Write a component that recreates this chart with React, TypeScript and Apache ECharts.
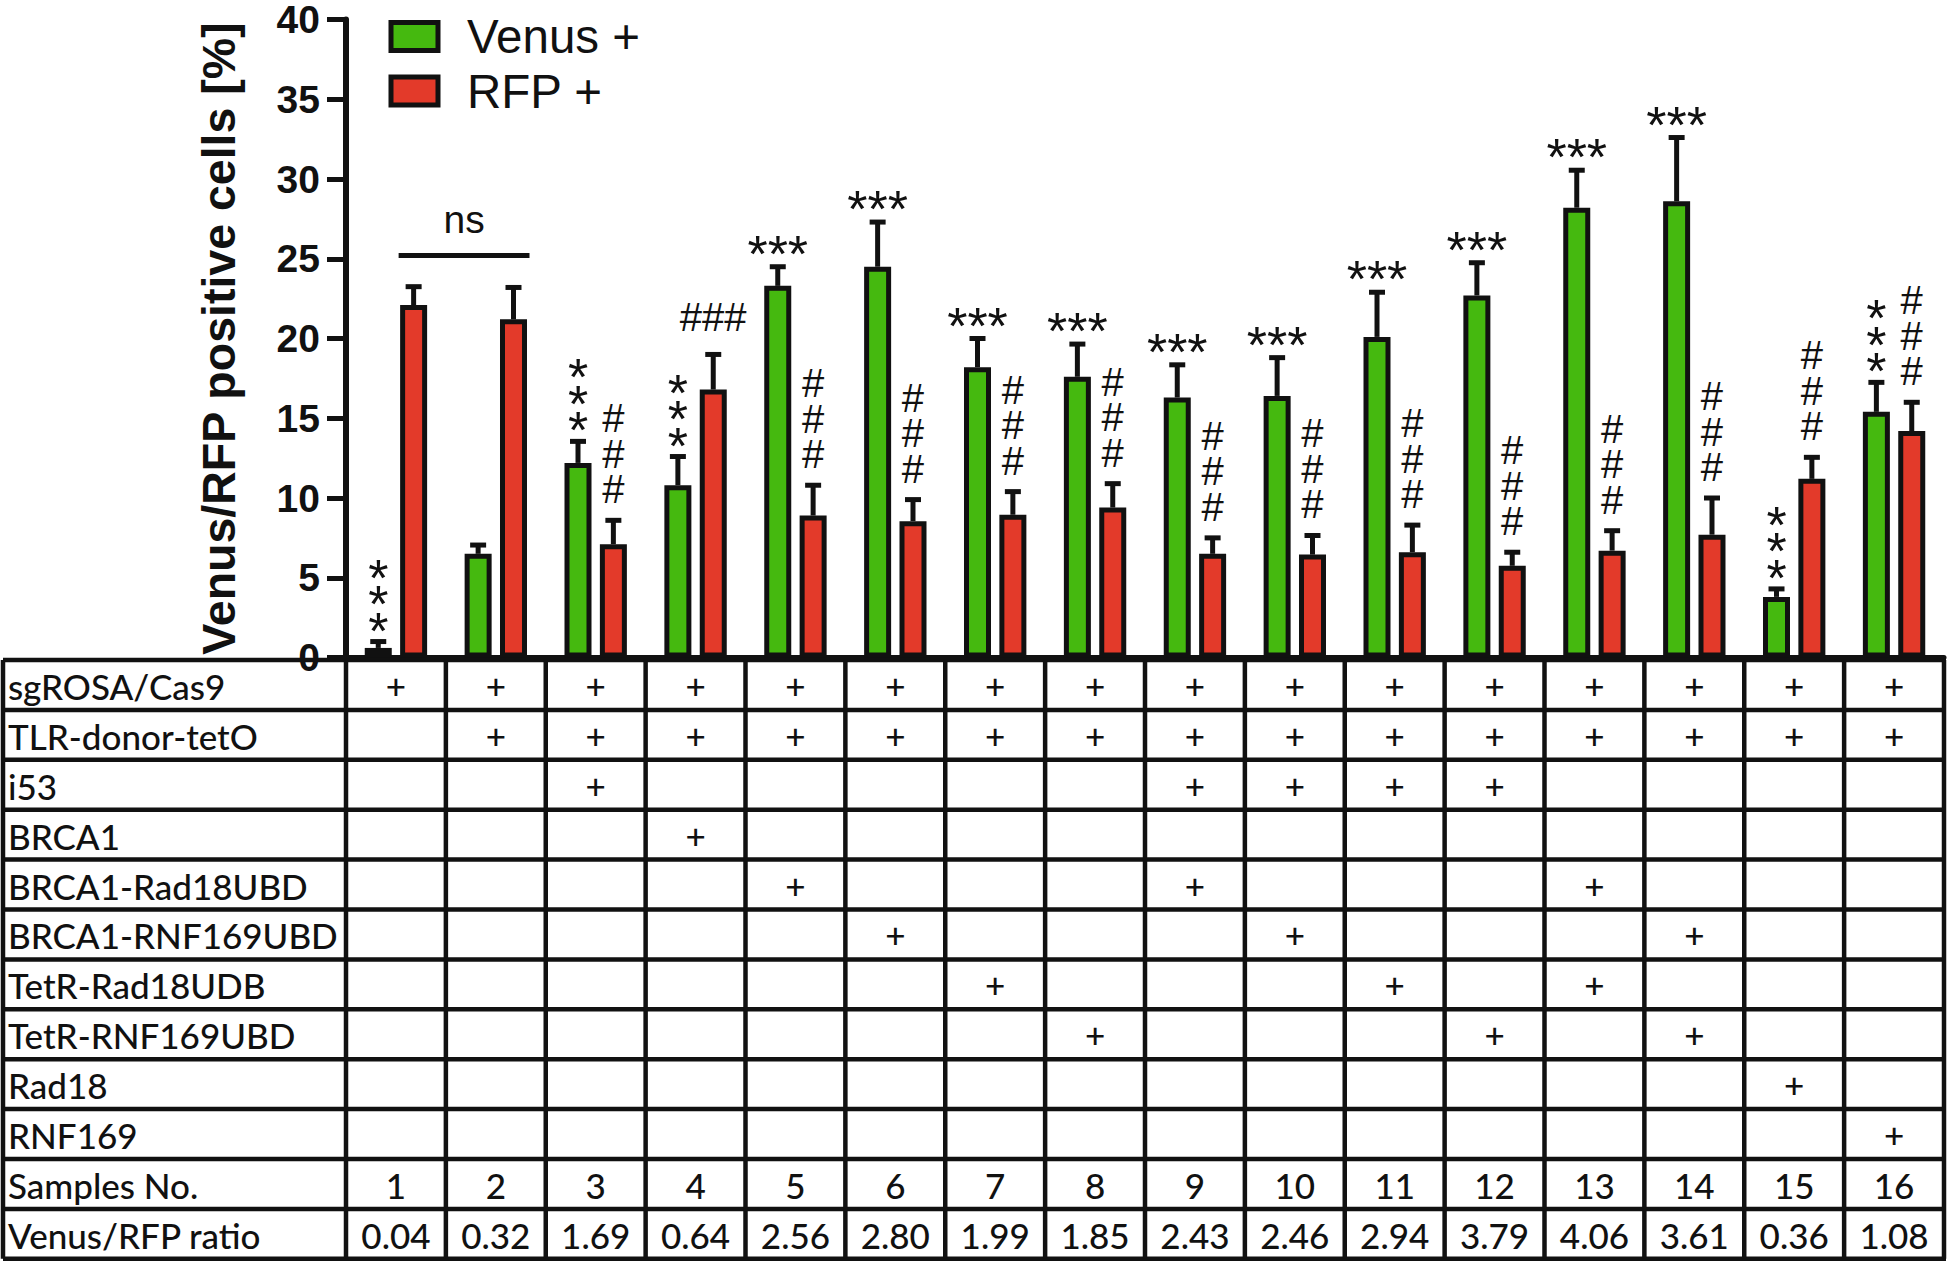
import React, { useEffect, useRef } from "react";
import * as echarts from "echarts";

// ---------- data ----------
const samples = ["1", "2", "3", "4", "5", "6", "7", "8", "9", "10", "11", "12", "13", "14", "15", "16"];
const venus = [0.6, 6.5, 12.2, 10.8, 23.3, 24.5, 18.2, 17.6, 16.3, 16.4, 20.1, 22.7, 28.2, 28.6, 3.8, 15.4];
const venusErr = [0.4, 0.55, 1.35, 1.8, 1.2, 2.8, 1.8, 2.05, 2.05, 2.4, 2.8, 2.05, 2.35, 4.0, 0.5, 1.85];
const rfp = [22.1, 21.2, 7.1, 16.8, 8.9, 8.55, 8.95, 9.4, 6.5, 6.45, 6.6, 5.75, 6.7, 7.7, 11.2, 14.2];
const rfpErr = [1.15, 2.0, 1.5, 2.2, 1.9, 1.35, 1.45, 1.5, 1.0, 1.2, 1.7, 0.85, 1.25, 2.3, 1.35, 1.8];
const V3 = "*\n*\n*";
const H3 = "#\n#\n#";
const venusMarks = [V3, "", V3, V3, "***", "***", "***", "***", "***", "***", "***", "***", "***", "***", V3, V3];
const rfpMarks = ["", "", H3, "###", H3, H3, H3, H3, H3, H3, H3, H3, H3, H3, H3, H3];
const nsPair = [0, 1, 25.2]; // from sample index, to sample index, height
const yTicks = { min: 0, max: 40, interval: 5 };

const rowLabels = [
  "sgROSA/Cas9",
  "TLR-donor-tetO",
  "i53",
  "BRCA1",
  "BRCA1-Rad18UBD",
  "BRCA1-RNF169UBD",
  "TetR-Rad18UDB",
  "TetR-RNF169UBD",
  "Rad18",
  "RNF169",
];
const rowMembers: number[][] = [
  [1, 2, 3, 4, 5, 6, 7, 8, 9, 10, 11, 12, 13, 14, 15, 16],
  [2, 3, 4, 5, 6, 7, 8, 9, 10, 11, 12, 13, 14, 15, 16],
  [3, 9, 10, 11, 12],
  [4],
  [5, 9, 13],
  [6, 10, 14],
  [7, 11, 13],
  [8, 12, 14],
  [15],
  [16],
];
const ratios = ["0.04", "0.32", "1.69", "0.64", "2.56", "2.80", "1.99", "1.85", "2.43", "2.46", "2.94", "3.79", "4.06", "3.61", "0.36", "1.08"];

// ---------- style ----------
const GREEN = "#45b90f";
const RED = "#e33a2a";
const INK = "#111111";
const FONT = "'Liberation Sans', Arial, Helvetica, sans-serif";
const TFONT = "Lato, 'Noto Sans', sans-serif";
const BAR_W = 27;
const BAR_GAP = 0.31;
const OFF = (BAR_W * (1 + BAR_GAP)) / 2;

export default function App() {
  const ref = useRef<HTMLDivElement>(null);

  useEffect(() => {
    const el = ref.current!;
    const chart = echarts.init(el, null, { renderer: "svg" });

    const errData: number[][] = [];
    venus.forEach((v, i) => errData.push([i, v, venusErr[i], 0]));
    rfp.forEach((v, i) => errData.push([i, v, rfpErr[i], 1]));

    const renderErr = (params: any, api: any) => {
      const i = api.value(0);
      const v = api.value(1);
      const e = api.value(2);
      const s = api.value(3);
      const base = api.coord([i, v]);
      const cx = base[0] + (s === 0 ? -OFF : OFF);
      const y0 = base[1];
      const yc = api.coord([i, v + e])[1];
      const children: any[] = [
        { type: "line", shape: { x1: cx, y1: y0, x2: cx, y2: yc }, style: { stroke: INK, lineWidth: 5 } },
        { type: "line", shape: { x1: cx - 8, y1: yc, x2: cx + 8, y2: yc }, style: { stroke: INK, lineWidth: 5 } },
      ];
      const mark = (s === 0 ? venusMarks : rfpMarks)[i];
      if (mark) {
        const isStar = mark.indexOf("*") >= 0;
        const fs = isStar ? 52 : 40;
        const n = mark.split("\n").length;
        const vertical = n > 1;
        let baseOff: number;
        let step: number;
        if (isStar) {
          baseOff = vertical ? 11 : 13;
          step = 26.5;
        } else {
          baseOff = vertical ? 31 : 37;
          step = 35.5;
        }
        const bottomCenter = yc - baseOff;
        children.push({
          type: "text",
          x: cx,
          y: bottomCenter - ((n - 1) * step) / 2,
          style: {
            text: mark,
            fill: INK,
            fontSize: fs,
            fontFamily: FONT,
            lineHeight: vertical ? step : fs,
            align: "center",
            verticalAlign: "middle",
          },
        });
      }
      return { type: "group", children };
    };

    const renderNs = (params: any, api: any) => {
      const a = api.value(0);
      const b = api.value(1);
      const h = api.value(2);
      const pa = api.coord([a, h]);
      const pb = api.coord([b, h]);
      const x1 = pa[0] + OFF - 15;
      const x2 = pb[0] + OFF + 16;
      return {
        type: "group",
        children: [
          { type: "line", shape: { x1, y1: pa[1], x2, y2: pa[1] }, style: { stroke: INK, lineWidth: 5 } },
          {
            type: "text",
            x: (x1 + x2) / 2,
            y: pa[1] - 36,
            style: { text: "ns", fill: INK, fontSize: 39, fontFamily: FONT, align: "center", verticalAlign: "middle" },
          },
        ],
      };
    };

    chart.setOption({
      animation: false,
      backgroundColor: "#ffffff",
      grid: { left: 346, right: 4, top: 13.5, bottom: 607.5 },
      legend: {
        left: 388.5,
        top: 12.5,
        padding: 0,
        orient: "vertical",
        icon: "rect",
        itemWidth: 47,
        itemHeight: 28,
        itemGap: 6.5,
        selectedMode: false,
        itemStyle: { borderColor: INK, borderWidth: 5 },
        textStyle: { fontSize: 47.5, fontFamily: FONT, color: INK, lineHeight: 46, padding: [0, 0, 0, 24] },
        data: ["Venus +", "RFP +"],
      },
      xAxis: {
        type: "category",
        data: samples,
        axisLine: { lineStyle: { color: INK, width: 5 } },
        axisTick: { show: false },
        axisLabel: { show: false },
        splitLine: { show: false },
      },
      yAxis: {
        type: "value",
        min: yTicks.min,
        max: yTicks.max,
        interval: yTicks.interval,
        name: "Venus/RFP positive cells [%]",
        nameLocation: "middle",
        nameRotate: 90,
        nameGap: 104,
        nameTextStyle: { fontSize: 46.5, fontWeight: "bold", fontFamily: FONT, color: INK },
        axisLine: { show: true, lineStyle: { color: INK, width: 6 } },
        axisTick: { show: true, length: 19, lineStyle: { color: INK, width: 5 } },
        axisLabel: { fontSize: 39, fontWeight: "bold", fontFamily: FONT, color: INK, margin: 26 },
        splitLine: { show: false },
      },
      series: [
        {
          name: "Venus +",
          type: "bar",
          data: venus,
          barWidth: BAR_W,
          barGap: BAR_GAP * 100 + "%",
          itemStyle: { color: GREEN, borderColor: INK, borderWidth: 5 },
          z: 2,
        },
        {
          name: "RFP +",
          type: "bar",
          data: rfp,
          barWidth: BAR_W,
          barGap: BAR_GAP * 100 + "%",
          itemStyle: { color: RED, borderColor: INK, borderWidth: 5 },
          z: 2,
        },
        {
          type: "custom",
          name: "err",
          data: errData,
          encode: { x: 0, y: 1 },
          renderItem: renderErr,
          z: 3,
          silent: true,
        },
        {
          type: "custom",
          name: "ns",
          data: [nsPair],
          encode: { x: 0, y: 2 },
          renderItem: renderNs,
          z: 3,
          silent: true,
        },
      ],
    });

    // ---------- table aligned to category axis ----------
    const p0 = chart.convertToPixel({ gridIndex: 0 }, [0, 0]) as number[];
    const p1 = chart.convertToPixel({ gridIndex: 0 }, [1, 0]) as number[];
    const band = p1[0] - p0[0];
    const tableTop = p0[1] + 2.5;
    const rowH = 49.9;
    const leftX = 3;
    const colLeft = (i: number) => p0[0] + (i - 0.5) * band;
    const rightX = colLeft(samples.length);
    const nRows = rowLabels.length + 2;
    const g: any[] = [];
    const lineStyle = { stroke: INK, lineWidth: 4.5 };
    for (let r = 0; r <= nRows; r++) {
      const y = tableTop + r * rowH;
      g.push({ type: "line", silent: true, shape: { x1: leftX, y1: y, x2: rightX + 2, y2: y }, style: lineStyle });
    }
    const xs = [leftX];
    for (let c = 0; c <= samples.length; c++) xs.push(colLeft(c));
    xs.forEach((x) =>
      g.push({ type: "line", silent: true, shape: { x1: x, y1: tableTop, x2: x, y2: tableTop + nRows * rowH }, style: lineStyle })
    );
    const textStyle = (text: string, align: string) => ({
      text,
      fill: INK,
      fontSize: 35,
      fontWeight: 500,
      fontFamily: TFONT,
      align,
      verticalAlign: "middle",
    });
    const allLabels = [...rowLabels, "Samples No.", "Venus/RFP ratio"];
    allLabels.forEach((lab, r) => {
      const yc = tableTop + (r + 0.5) * rowH + 1;
      g.push({ type: "text", silent: true, x: 8, y: yc, style: textStyle(lab, "left") });
    });
    rowMembers.forEach((mem, r) => {
      const yc = tableTop + (r + 0.5) * rowH;
      mem.forEach((sNo) => {
        const cx = p0[0] + (sNo - 1) * band;
        g.push({ type: "text", silent: true, x: cx, y: yc, style: textStyle("+", "center") });
      });
    });
    samples.forEach((sNo, i) => {
      const cx = p0[0] + i * band;
      const yS = tableTop + (rowLabels.length + 0.5) * rowH + 1;
      const yR = tableTop + (rowLabels.length + 1.5) * rowH + 1;
      g.push({ type: "text", silent: true, x: cx, y: yS, style: textStyle(sNo, "center") });
      g.push({ type: "text", silent: true, x: cx, y: yR, style: textStyle(ratios[i], "center") });
    });
    chart.setOption({ graphic: g });

    return () => chart.dispose();
  }, []);

  return (
    <div
      ref={ref}
      style={{ position: "fixed", left: 0, top: 0, width: 1948, height: 1265, background: "#ffffff" }}
    />
  );
}
